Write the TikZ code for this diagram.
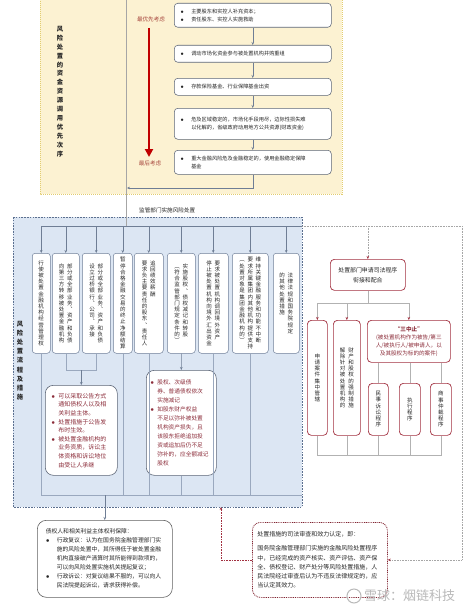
\documentclass[tikz,border=0pt]{standalone}
\usepackage{fontspec}
\setmainfont{Noto Sans CJK SC}
\usetikzlibrary{arrows.meta}
\XeTeXlinebreaklocale "zh"
\definecolor{yelfill}{HTML}{FCF2D2}
\definecolor{yelbord}{HTML}{E2CD70}
\definecolor{bluefill}{HTML}{DCE6F3}
\definecolor{bluebord}{HTML}{5B6F8F}
\definecolor{boxbord}{HTML}{5D6677}
\definecolor{colbord}{HTML}{6F7F99}
\definecolor{linec}{HTML}{6F7E95}
\definecolor{gridc}{HTML}{9AA8BE}
\definecolor{darkred}{HTML}{A23040}
\definecolor{txtred}{HTML}{8C2D3A}
\definecolor{arrowred}{HTML}{C00000}
\definecolor{brownred}{HTML}{A8493F}
\definecolor{txtc}{HTML}{262626}
\makeatletter
\newcommand\vc[2]{\vtop{\baselineskip=#1\relax\lineskiplimit=-50pt\lineskip=0pt\@tfor\vc@x:=#2\do{\hbox to 1.08em{\hss\vc@x\hss}}}}
\makeatother
\newcommand\bl{\makebox[11pt][l]{$\bullet$}}
\newcommand\ind{\hspace*{11pt}}
\newcommand\bls{\makebox[7pt][l]{$\bullet$}}
\newcommand\inds{\hspace*{7pt}}
\begin{document}
\begin{tikzpicture}[x=1pt,y=-1pt,
  tbox/.style={draw=boxbord, fill=white, rounded corners=3.5pt, line width=0.55pt, anchor=north west, inner ysep=0pt, align=left, text=txtc, font=\fontsize{5.2}{8.5}\selectfont},
  cbox/.style={draw=colbord, fill=white, rounded corners=3pt, line width=0.5pt, anchor=north west, inner sep=0pt, minimum height=100pt, text=txtc, font=\fontsize{5.5}{6.2}\selectfont},
  lbox/.style={draw=boxbord, fill=white, rounded corners=8pt, line width=0.6pt, anchor=north west, inner ysep=0pt, align=left, text=txtred},
  rbox/.style={draw=darkred, fill=white, rounded corners=4pt, line width=0.7pt, anchor=north west, inner sep=0pt, text=txtc},
  arr/.style={draw=linec, line width=0.5pt, -{Stealth[length=3pt,width=2.6pt]}},
  gridl/.style={draw=gridc, line width=0.5pt},
  gline/.style={draw=gray!60, line width=0.5pt},
  rarr/.style={draw=gray!60, line width=0.5pt, -{Stealth[length=3pt,width=2.6pt,color=darkred]}},
  dotline/.style={draw=gray!70, line width=0.6pt, dash pattern=on 0.8pt off 0.8pt},
  dotarr/.style={dotline, -{Stealth[length=3pt,width=2.6pt,color=darkred]}},
  reddot/.style={draw=darkred, line width=0.6pt, dash pattern=on 0.8pt off 0.8pt, -{Stealth[length=3pt,width=2.6pt,color=darkred]}},
  lab/.style={inner sep=0pt}
]
\useasboundingbox (0,0) rectangle (474,610);
\fill[white] (0,0) rectangle (474,610);
% background panels
\draw[draw=yelbord, fill=yelfill, line width=0.7pt, dash pattern=on 1pt off 1pt] (40,-3) rectangle (342,194);
\draw[draw=bluebord, fill=bluefill, line width=0.6pt, dash pattern=on 1.6pt off 1.2pt] (13,217) rectangle (302,507);

% coordinates
\coordinate (vtop) at (126,-3);
\coordinate (vj) at (126,226);
\coordinate (t5) at (127,188);
\coordinate (dr) at (302,226);
\coordinate (rt) at (462,226);
\coordinate (lb) at (0,370);
\coordinate (gh) at (0,495);
\coordinate (rh) at (0,303);
\coordinate (rbk) at (0,455);
\coordinate (bb) at (221,507);
\coordinate (ra1) at (149,28);
\coordinate (ra2) at (149,157);

% ---------- top section ----------
\node[lab, text=txtc, font=\fontsize{6.3}{8.9}\selectfont\bfseries] (lt) at (60,91.5) {\vc{8.9pt}{风险处置的资金资源调用优先次序}};
\node[lab, text=brownred, font=\fontsize{5.6}{6}\selectfont] (p1) at (151,19) {最优先考虑};
\node[lab, text=brownred, font=\fontsize{5.6}{6}\selectfont] (p2) at (150,163) {最后考虑};
\draw[arrowred, line width=2.6pt, -{Triangle[length=8pt,width=8pt]}] (ra1) -- (ra2);

\node[tbox, text width=145pt, inner xsep=6pt, minimum height=24pt] (b1) at (174,3) {\bl 主要股东和实控人补充资本；\\\bl 责任股东、实控人实施救助};
\node[tbox, text width=145pt, inner xsep=6pt, minimum height=17pt] (b2) at (174,45) {\bl 调动市场化资金参与被处置机构并购重组};
\node[tbox, text width=145pt, inner xsep=6pt, minimum height=17pt] (b3) at (174,78) {\bl 存款保险基金、行业保障基金出资};
\node[tbox, text width=145pt, inner xsep=6pt, minimum height=31pt] (b4) at (174,108) {\bl 危及区域稳定的，市场化手段用尽，边际性损失难\\\ind 以化解的，省级政府动用地方公共资源(财政资金)};
\node[tbox, text width=145pt, inner xsep=6pt, minimum height=24pt] (b5) at (174,150) {\bl 重大金融风险危及金融稳定的，使用金融稳定保障\\\ind 基金};

\draw[arr] (b1) -- (b2);
\draw[arr] (b2) -- (b3);
\draw[arr] (b3) -- (b4);
\draw[arr] (b4) -- (b5);
\draw[arr] (b5.south) |- (t5);
\draw[draw=gray!70, line width=0.6pt] (vtop) -- (vj);

\node[lab, anchor=west, text=txtc, font=\fontsize{5.6}{6}\selectfont] (jg) at (139,210) {监管部门实施风险处置};

% ---------- blue section ----------
\node[lab, text=txtc, font=\fontsize{6.3}{9.2}\selectfont\bfseries] (lb2) at (20,360.5) {\vc{9.2pt}{风险处置流程及措施}};

\node[cbox, minimum width=18pt] (c1) at (32,253) {\vc{6.2pt}{行使被处置金融机构经营管理权}};
\node[cbox, minimum width=27pt] (c2) at (52,253) {\vc{6.2pt}{向第三方转移被处置金融机构}\hspace{2.2pt}\vc{6.2pt}{部分或全部业务︑资产和负债}};
\node[cbox, minimum width=28pt] (c3) at (82,253) {\vc{6.2pt}{设立过桥银行︑公司︑承接}\hspace{2.2pt}\vc{6.2pt}{部分或全部业务︑资产和负债}};
\node[cbox, minimum width=19pt] (c4) at (113,253) {\vc{6.2pt}{暂停合格金融交易的终止净额结算}};
\node[cbox, minimum width=29pt] (c5) at (134,253) {\vc{6.2pt}{要求负主要责任的股东︑责任人}\hspace{2.2pt}\vc{6.2pt}{追回绩效薪酬}};
\node[cbox, minimum width=28pt] (c6) at (167,253) {\vc{6.2pt}{︵符合监管部门规定条件的︶}\hspace{2.2pt}\vc{6.2pt}{实施股权︑债权减记和转股}};
\node[cbox, minimum width=30pt] (c7) at (198,253) {\vc{6.2pt}{停止被处置机构向境外汇出资金}\hspace{2.2pt}\vc{6.2pt}{要求被处置机构调回境外资产}};
\node[cbox, minimum width=36pt] (c8) at (232,253) {\vc{6.2pt}{︵处置对象是集团金融机构的︶}\hspace{2.2pt}\vc{6.2pt}{要求所属集团内其他机构提供支持}\hspace{2.2pt}\vc{6.2pt}{维持关键金融服务和功能不中断}};
\node[cbox, minimum width=26pt] (c9) at (273,253) {\vc{6.2pt}{的其他处置措施}\hspace{2.2pt}\vc{6.2pt}{法律法规和国务院规定}};

% distribution line and arrows
\draw[draw=linec, line width=0.5pt] (c1.north |- vj) -- (dr);
\foreach \c in {c1,c2,c3,c4,c5,c6,c7,c8,c9}{\draw[arr] (\c.north |- vj) -- (\c.north);}

\node[lbox, text width=60pt, inner xsep=6pt, minimum height=90pt, font=\fontsize{6}{8.6}\selectfont] (L1) at (45,385) {\bls 可以采取公告方式\\\inds 通知债权人以及相\\\inds 关利益主体。\\\bls 处置措施于公告发\\\inds 布时生效。\\\bls 被处置金融机构的\\\inds 业务资质，诉讼主\\\inds 体资格和诉讼地位\\\inds 由受让人承继};
\node[lbox, text width=62pt, inner xsep=4pt, minimum height=105pt, font=\fontsize{5.7}{9}\selectfont] (L2) at (146,370) {\bls 股权、次级债\\\inds 券、普通债权依次\\\inds 实施减记\\\bls 如股东财产权益\\\inds 不足以弥补被处置\\\inds 机构资产损失，且\\\inds 该股东拒绝追加投\\\inds 资或追加后仍不足\\\inds 弥补的，应全额减记\\\inds 股权};

\draw[gridl] (c2.south) -- (c2.south |- lb) -- (c3.south |- lb) -- (c3.south);
\draw[arr] (L1.north |- lb) -- (L1.north);
\draw[arr] (c6.south) -- (L2.north);
\draw[gridl] (c1.south) -- (c1.south |- gh) -- (dr |- gh);
\foreach \c in {c4,c5,c7,c8,L2}{\draw[gridl] (\c.south) -- (\c.south |- gh);}

\node[draw=gray!75!black, fill=white, rounded corners=9pt, line width=0.6pt, anchor=north west, inner ysep=0pt, align=left, text=txtc, text width=118pt, inner xsep=8.5pt, minimum height=77pt, font=\fontsize{5.8}{9}\selectfont] (B1) at (37,520) {债权人和相关利益主体权利保障：\\\bl 行政复议：认为在国务院金融管理部门实\\\ind 施的风险处置中，其所得低于被处置金融\\\ind 机构直接破产清算时其所能得到款项的，\\\ind 可以向风险处置实施机关提起复议；\\\bl 行政诉讼：对复议结果不服的，可以向人\\\ind 民法院提起诉讼，请求获得补偿。};
\draw[arr] (B1.north |- gh) -- (B1.north);

% ---------- right section ----------
\node[rbox, minimum width=75pt, minimum height=31pt, align=center, font=\fontsize{5.9}{10}\selectfont] (R1) at (330,259) {处置部门申请司法程序\\衔接和配合};
\node[rbox, minimum width=20pt, minimum height=115pt, font=\fontsize{5.5}{6.2}\selectfont] (RA) at (307,320) {\vc{6.2pt}{申请案件集中管辖}};
\node[rbox, minimum width=27pt, minimum height=115pt, font=\fontsize{5.5}{6.2}\selectfont] (RB) at (333,320) {\vc{6.2pt}{解除针对被处置机构的}\hspace{2.5pt}\vc{6.2pt}{财产和股权的强制措施}};
\node[rbox, minimum width=83pt, minimum height=42pt, align=center, text=txtred, font=\fontsize{5.6}{8}\selectfont] (RC) at (367,320) {{\bfseries “三中止”}\\(被处置机构作为被告/第三\\人/被执行人/被申请人，以\\及其股权为标的的案件)};
\node[rbox, minimum width=20pt, minimum height=52pt, font=\fontsize{5.5}{6.2}\selectfont] (D1) at (368,383) {\vc{6.2pt}{民事诉讼程序}};
\node[rbox, minimum width=21pt, minimum height=52pt, font=\fontsize{5.5}{6.2}\selectfont] (D2) at (399,383) {\vc{6.2pt}{执行程序}};
\node[rbox, minimum width=21pt, minimum height=52pt, font=\fontsize{5.5}{6.2}\selectfont] (D3) at (430,383) {\vc{6.2pt}{商事仲裁程序}};

\draw[dotline] (dr) -- (rt);
\draw[dotarr] (R1.north |- rt) -- (R1.north);
\draw[gline] (R1.south) -- (R1.south |- rh);
\draw[gline] (RA.north |- rh) -- (RC.north |- rh);
\foreach \c in {RA,RB,RC}{\draw[rarr] (\c.north |- rh) -- (\c.north);}
\foreach \c in {D1,D2,D3}{\draw[gline] (\c.north |- RC.south) -- (\c.north);}
\draw[gline] (RA.south) -- (RA.south |- rbk) -- (D3.south |- rbk) -- (D3.south);
\foreach \c in {RB,D1,D2}{\draw[gline] (\c.south) -- (\c.south |- rbk);}

\node[draw=darkred!80!black, fill=white, rounded corners=8pt, line width=0.8pt, dash pattern=on 0.9pt off 0.9pt, anchor=north west, inner ysep=0pt, align=left, text=txtc, text width=125pt, inner xsep=5pt, minimum height=75pt, font=\fontsize{6}{9.2}\selectfont] (B2) at (252,522) {处置措施的司法审查和效力认定，即：\\[5pt]国务院金融管理部门实施的金融风险处置程序\\中，已经完成的资产核实、资产评估、资产保\\全、债权登记、财产处分等风险处置措施，人\\民法院经过审查后认为不违反法律规定的，应\\当认定其效力。};

\draw[dotarr] (rt) |- (B2.east);
\draw[reddot] (B2.west) -| (bb);

% watermark
\draw[gray!55, line width=1pt] (354,596) circle (7);
\node[lab, anchor=west, text=gray!55, font=\fontsize{13}{13}\selectfont] (wm) at (364,596) {雪球：烟链科技};
\end{tikzpicture}
\end{document}
